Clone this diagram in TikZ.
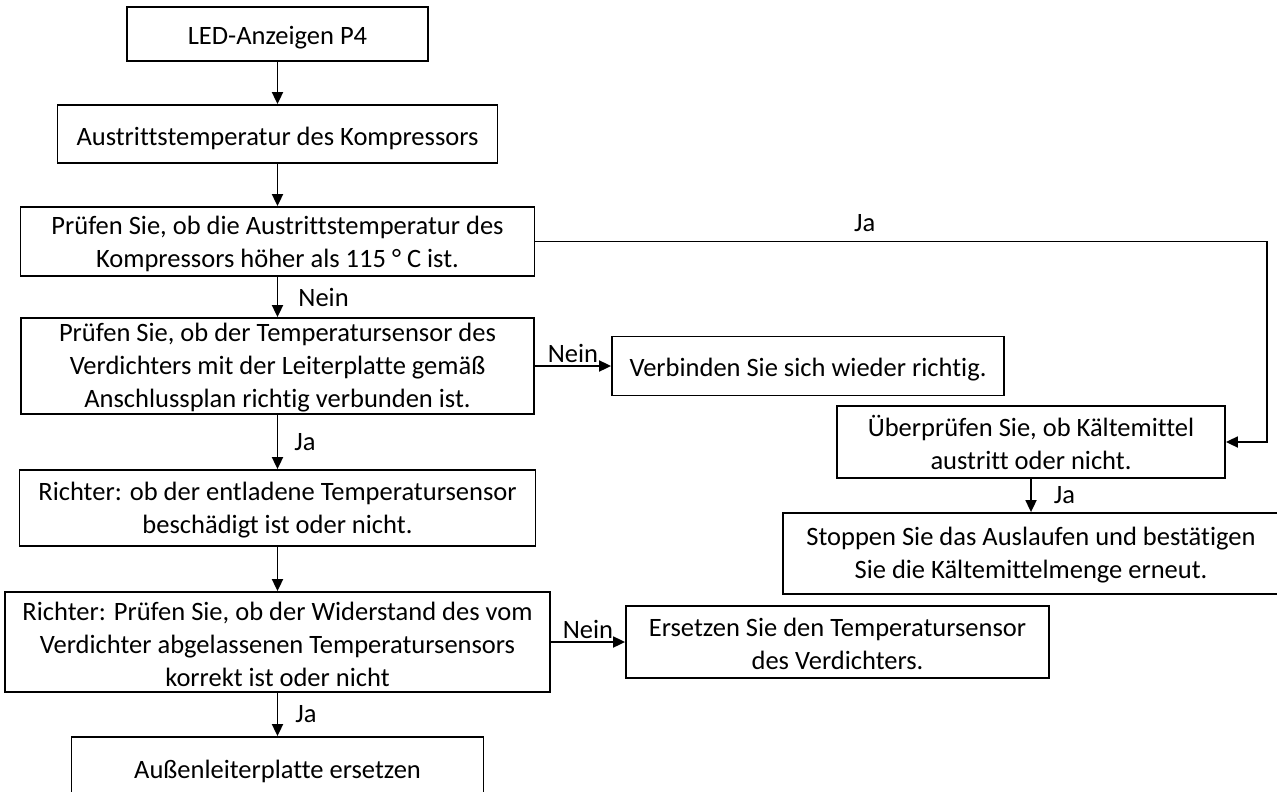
\documentclass[tikz,border=0pt]{standalone}
\usepackage{fontspec}
\setmainfont{Carlito}[Ligatures=NoCommon]
\usetikzlibrary{positioning,arrows.meta}
\newcommand{\topstrut}{\rule{0pt}{0.85em}}

\begin{document}
\begin{tikzpicture}[
    x=1pt, y=-1pt,
    font=\fontsize{26.5}{33}\selectfont,
    box/.style={draw, line width=1.8pt, inner sep=0pt, align=center,
                execute at begin node={\rule{0pt}{1em}}},
    arr/.style={-{Triangle[length=12pt, width=11pt]}, line width=1.8pt},
    lbl/.style={inner sep=2pt}
]
\useasboundingbox (0,0) rectangle (1277,792);

% left column
\node[box, minimum width=301, minimum height=54] (led) at (277.5,34) {LED-Anzeigen P4};
\node[box, minimum width=440, minimum height=58] (aus) at (277.5,134) {Austrittstemperatur des Kompressors};
\node[box, minimum width=514, minimum height=69] (pr1) at (277.5,241.5)
     {\topstrut Prüfen Sie, ob die Austrittstemperatur des\\Kompressors höher als 115 ° C ist.};
\node[box, minimum width=513, minimum height=96] (pr2) at (277.5,366)
     {\topstrut Prüfen Sie, ob der Temperatursensor des\\Verdichters mit der Leiterplatte gemäß\\Anschlussplan richtig verbunden ist.};
\node[box, minimum width=516, minimum height=76] (ri1) at (277.5,508)
     {\topstrut Richter: ob der entladene Temperatursensor\\beschädigt ist oder nicht.};
\node[box, minimum width=545, minimum height=100] (ri2) at (277.5,642)
     {\topstrut Richter: Prüfen Sie, ob der Widerstand des vom\\Verdichter abgelassenen Temperatursensors\\korrekt ist oder nicht};
\node[box, minimum width=412, minimum height=60] (pla) at (277.5,767) {Außenleiterplatte ersetzen};

% right side
\node[box, minimum width=392, minimum height=59] (ver) at (808,366) {Verbinden Sie sich wieder richtig.};
\node[box, minimum width=388, minimum height=72] (kae) at (1031,442)
     {Überprüfen Sie, ob Kältemittel\\austritt oder nicht.};
\node[box, minimum width=496, minimum height=81] (sto) at (1031,553.5)
     {\topstrut Stoppen Sie das Auslaufen und bestätigen\\Sie die Kältemittelmenge erneut.};
\node[box, minimum width=423, minimum height=72] (ers) at (837.5,642)
     {\topstrut Ersetzen Sie den Temperatursensor\\des Verdichters.};
\coordinate (ecke) at (1267,241.5);

\draw[arr] (led.south) -- (aus.north);
\draw[arr] (aus.south) -- (pr1.north);
\draw[arr] (pr1.south) -- (pr2.north) node[midway, right=18pt, lbl] {Nein};
\draw[arr] (pr2.east) -- (ver.west) node[midway, above, lbl] {Nein};
\draw[arr] (pr2.south) -- (ri1.north) node[midway, right=14pt, lbl] {Ja};
\draw[arr] (ri1.south) -- (ri2.north);
\draw[arr] (ri2.east) -- (ers.west) node[midway, above, lbl] {Nein};
\draw[arr] (ri2.south) -- (pla.north) node[midway, right=15pt, lbl] {Ja};
\draw[arr] (pr1.east) -- (ecke) node[pos=0.45, above=7pt, lbl] {Ja} |- (kae.east);
\draw[arr] (kae.south) -- (sto.north) node[midway, right=20pt, lbl] {Ja};
\end{tikzpicture}
\end{document}
